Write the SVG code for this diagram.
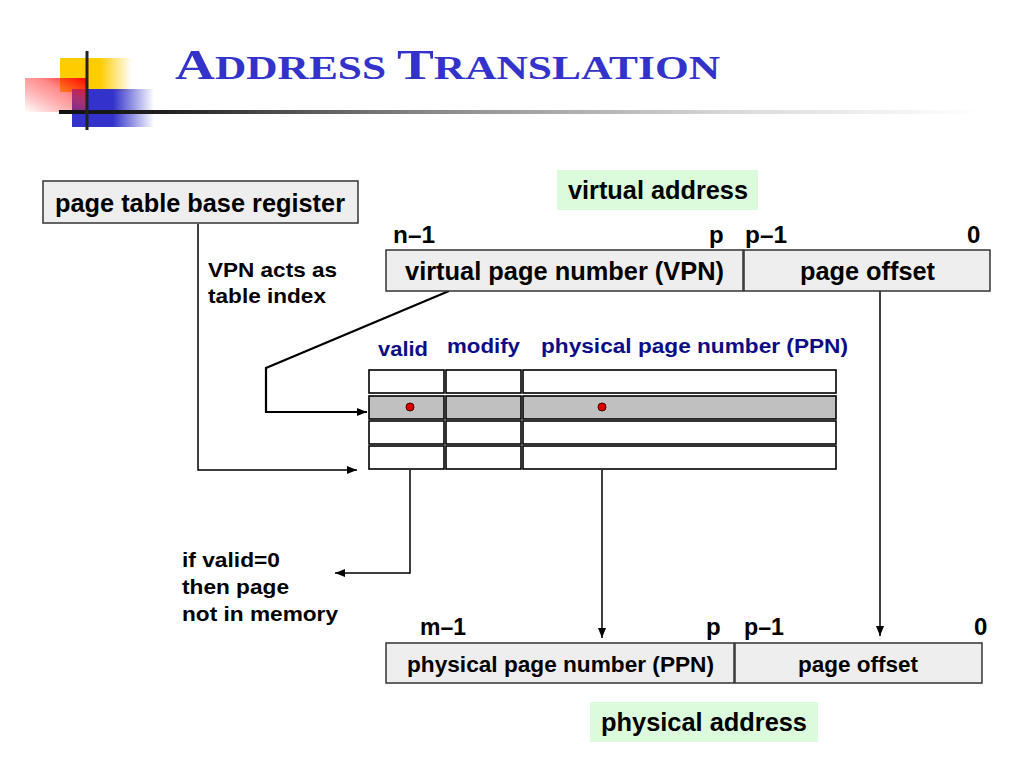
<svg xmlns="http://www.w3.org/2000/svg" width="1024" height="768" viewBox="0 0 1024 768">
<style>
.t{font-family:"Liberation Sans",Arial,sans-serif;font-weight:bold;fill:#000}
.h{font-family:"Liberation Sans",Arial,sans-serif;font-weight:bold;fill:#0c0c86;font-size:20px}
.box{fill:#eeeeee;stroke:#333;stroke-width:1.5}
.cell{fill:#fff;stroke:#000;stroke-width:1.6}
.sel{fill:#c0c0c0}
.ln{fill:none;stroke:#000;stroke-width:1.5}
.dot{fill:#e00000;stroke:#400;stroke-width:1}
.lbl{fill:#dcfadc}
</style>
<defs>
<marker id="ah" markerWidth="10" markerHeight="8" refX="10" refY="4" orient="auto" markerUnits="userSpaceOnUse">
<path d="M0,0 L10,4 L0,8 Z" fill="#000"/>
</marker>
<linearGradient id="gy" x1="0" y1="0" x2="1" y2="0">
<stop offset="0" stop-color="#ffcc00"/><stop offset="0.55" stop-color="#ffcc00"/><stop offset="1" stop-color="#ffcc00" stop-opacity="0"/>
</linearGradient>
<linearGradient id="gr" x1="0" y1="1" x2="1" y2="0">
<stop offset="0" stop-color="#ff0000" stop-opacity="0"/><stop offset="0.6" stop-color="#ff3030" stop-opacity="0.55"/><stop offset="1" stop-color="#ff0000"/>
</linearGradient>
<linearGradient id="gb" x1="0" y1="0" x2="1" y2="0">
<stop offset="0" stop-color="#3333cc"/><stop offset="0.5" stop-color="#3333cc"/><stop offset="1" stop-color="#3333cc" stop-opacity="0"/>
</linearGradient>
<linearGradient id="gl" x1="60" y1="0" x2="980" y2="0" gradientUnits="userSpaceOnUse">
<stop offset="0" stop-color="#111"/><stop offset="0.12" stop-color="#222"/><stop offset="0.4" stop-color="#888"/><stop offset="0.75" stop-color="#ddd"/><stop offset="1" stop-color="#fff"/>
</linearGradient>
</defs>

<g id="logo">
<rect x="60" y="58" width="72" height="34" fill="url(#gy)"/>
<rect x="72" y="89" width="82" height="38" fill="url(#gb)"/>
<rect x="25" y="78" width="62" height="34" fill="url(#gr)"/>
<rect x="59" y="110" width="921" height="4" fill="url(#gl)"/>
<rect x="85.5" y="51" width="3" height="79" fill="#222"/>
</g>

<g id="title">
<text x="175" y="79" font-family="'Liberation Serif','Times New Roman',serif" font-weight="bold" fill="#3333cc" font-size="42" textLength="545" lengthAdjust="spacingAndGlyphs">A<tspan font-size="33">DDRESS </tspan>T<tspan font-size="33">RANSLATION</tspan></text>
</g>

<g id="connectors">
<polyline class="ln" points="198,224 198,470 357,470" marker-end="url(#ah)"/>
<polyline class="ln" points="449,291 266,368 266,412 367,412" style="stroke-width:2.2" marker-end="url(#ah)"/>
<polyline class="ln" points="410,470 410,573 335,573" marker-end="url(#ah)"/>
<line class="ln" x1="602" y1="470" x2="602" y2="638" marker-end="url(#ah)"/>
<line class="ln" x1="880" y1="291" x2="880" y2="636" marker-end="url(#ah)"/>
</g>

<g id="ptbr">
<rect class="box" x="43" y="181" width="315" height="42"/>
<text class="t" x="55" y="212" font-size="25" textLength="290" lengthAdjust="spacingAndGlyphs">page table base register</text>
</g>

<g id="vpn-note">
<text class="t" x="208" y="277" font-size="21" textLength="129" lengthAdjust="spacingAndGlyphs">VPN acts as</text>
<text class="t" x="208" y="303" font-size="21" textLength="118" lengthAdjust="spacingAndGlyphs">table index</text>
</g>

<g id="virtual-address-label">
<rect class="lbl" x="557" y="170" width="201" height="40"/>
<text class="t" x="568" y="199" font-size="25" textLength="180" lengthAdjust="spacingAndGlyphs">virtual address</text>
</g>

<g id="virtual-address">
<text class="t" x="393" y="243" font-size="24" textLength="42" lengthAdjust="spacingAndGlyphs">n–1</text>
<text class="t" x="709" y="243" font-size="24">p</text>
<text class="t" x="745" y="243" font-size="24" textLength="42" lengthAdjust="spacingAndGlyphs">p–1</text>
<text class="t" x="967" y="243" font-size="24">0</text>
<rect class="box" x="386" y="250" width="357" height="41"/>
<rect class="box" x="744" y="250" width="246" height="41"/>
<text class="t" x="405" y="280" font-size="25" textLength="319" lengthAdjust="spacingAndGlyphs">virtual page number (VPN)</text>
<text class="t" x="800" y="280" font-size="25" textLength="135" lengthAdjust="spacingAndGlyphs">page offset</text>
</g>

<g id="page-table">
<text class="h" x="378" y="356" textLength="50" lengthAdjust="spacingAndGlyphs">valid</text>
<text class="h" x="447" y="353" textLength="73" lengthAdjust="spacingAndGlyphs">modify</text>
<text class="h" x="541" y="353" textLength="307" lengthAdjust="spacingAndGlyphs">physical page number (PPN)</text>
<rect class="cell" x="369" y="370" width="75" height="23"/>
<rect class="cell" x="446" y="370" width="75" height="23"/>
<rect class="cell" x="523" y="370" width="313" height="23"/>
<rect class="cell sel" x="369" y="396" width="75" height="23"/>
<rect class="cell sel" x="446" y="396" width="75" height="23"/>
<rect class="cell sel" x="523" y="396" width="313" height="23"/>
<rect class="cell" x="369" y="421" width="75" height="23"/>
<rect class="cell" x="446" y="421" width="75" height="23"/>
<rect class="cell" x="523" y="421" width="313" height="23"/>
<rect class="cell" x="369" y="446" width="75" height="23"/>
<rect class="cell" x="446" y="446" width="75" height="23"/>
<rect class="cell" x="523" y="446" width="313" height="23"/>
<circle class="dot" cx="410" cy="407" r="4"/>
<circle class="dot" cx="602" cy="407" r="4"/>
</g>

<g id="valid-note">
<text class="t" x="182" y="567" font-size="21" textLength="98" lengthAdjust="spacingAndGlyphs">if valid=0</text>
<text class="t" x="182" y="594" font-size="21" textLength="107" lengthAdjust="spacingAndGlyphs">then page</text>
<text class="t" x="182" y="621" font-size="21" textLength="156" lengthAdjust="spacingAndGlyphs">not in memory</text>
</g>

<g id="physical-address">
<text class="t" x="420" y="635" font-size="24" textLength="46" lengthAdjust="spacingAndGlyphs">m–1</text>
<text class="t" x="706" y="635" font-size="24">p</text>
<text class="t" x="744" y="635" font-size="24" textLength="40" lengthAdjust="spacingAndGlyphs">p–1</text>
<text class="t" x="974" y="635" font-size="24">0</text>
<rect class="box" x="386" y="643" width="348" height="40"/>
<rect class="box" x="735" y="643" width="247" height="40"/>
<text class="t" x="407" y="672" font-size="22" textLength="307" lengthAdjust="spacingAndGlyphs">physical page number (PPN)</text>
<text class="t" x="798" y="672" font-size="22" textLength="120" lengthAdjust="spacingAndGlyphs">page offset</text>
</g>

<g id="physical-address-label">
<rect class="lbl" x="590" y="702" width="228" height="40"/>
<text class="t" x="601" y="731" font-size="25" textLength="206" lengthAdjust="spacingAndGlyphs">physical address</text>
</g>
</svg>
